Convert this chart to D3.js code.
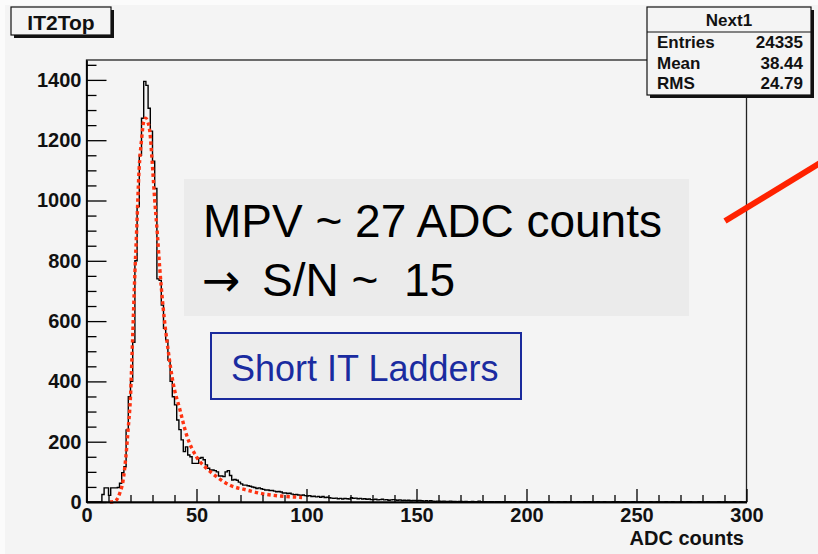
<!DOCTYPE html>
<html>
<head>
<meta charset="utf-8">
<script src="https://cdn.jsdelivr.net/npm/d3@7"></script>
<style>
  body { margin: 0; background: #fbfbfb; }
  svg { display: block; font-family: "Liberation Sans", Arial, sans-serif; }
</style>
</head>
<body>
<svg id="viz" width="818" height="554"></svg>
<script>
// histogram: one bin per ADC count, 0..300
const binWidth = 1;
const counts = [
  0, 0, 0, 0, 0, 0, 0, 25, 47, 47,
  22, 47, 47, 47, 48, 62, 97, 117, 239, 349,
  400, 530, 800, 980, 1150, 1273, 1395, 1382, 1306, 1230,
  1130, 1040, 740, 735, 653, 576, 537, 471, 400, 349,
  322, 272, 240, 206, 167, 183, 156, 150, 128, 128,
  128, 145, 148, 140, 123, 112, 106, 106, 104, 100,
  86, 86, 84, 100, 104, 88, 73, 75, 72, 66,
  60, 56, 56, 54, 52, 50, 48, 45, 47, 44,
  42, 40, 40, 38, 38, 36, 34, 35, 33, 30,
  30, 28, 29, 26, 24, 25, 23, 22, 23, 21,
  20, 21, 18, 19, 17, 18, 16, 18, 15, 16,
  14, 13, 12, 13, 11, 12, 10, 12, 11, 10,
  14, 12, 13, 11, 12, 10, 11, 9, 10, 8,
  8, 9, 7, 8, 9, 7, 8, 6, 7, 8,
  7, 6, 7, 5, 6, 5, 6, 4, 5, 5,
  4, 5, 4, 3, 4, 3, 4, 3, 2, 3,
  3, 2, 3, 2, 2, 3, 2, 2, 1, 2,
  2, 1, 2, 1, 1, 2, 1, 1, 3, 1,
  1, 1, 0, 1, 1, 0, 1, 1, 0, 1,
  0, 1, 1, 0, 1, 0, 0, 1, 0, 1,
  1, 0, 0, 1, 0, 1, 0, 0, 1, 0,
  0, 1, 0, 0, 1, 0, 0, 1, 0, 0,
  1, 0, 0, 1, 0, 0, 1, 0, 1, 0,
  0, 0, 1, 0, 0, 1, 0, 0, 0, 1,
  0, 1, 0, 0, 1, 0, 0, 0, 1, 0,
  0, 0, 1, 0, 0, 0, 1, 0, 0, 1,
  0, 0, 0, 1, 0, 0, 1, 0, 0, 0,
  1, 0, 0, 1, 1, 0, 0, 0, 1, 0,
  0, 0, 1, 0, 0, 0, 0, 1, 0, 0,
  1, 0, 0, 0, 1, 0, 0, 1, 0, 0
];

// fitted curve
const fitX = [10.6, 12.9, 15.1, 16.6, 17.9, 18.9, 20, 20.9, 22, 22.8, 23.9, 25, 26, 26.8, 27.8, 28.8, 29.8, 31, 32.2, 33.3, 34.8, 37.1, 39.4, 42.4, 45.5, 50, 54.5, 59.1, 65.1, 72.7, 80.3, 87.9, 95.5, 98];
const fitY = [0, 2, 29, 70, 150, 239, 350, 530, 760, 900, 1101, 1200, 1262, 1273, 1262, 1228, 1134, 1002, 890, 775, 648, 504, 394, 308, 222, 150, 112, 84, 56, 40, 27, 20, 16, 15];

const xTicks = [0, 50, 100, 150, 200, 250, 300];
const yTicks = [0, 200, 400, 600, 800, 1000, 1200, 1400];
const statNames = ['Entries', 'Mean', 'RMS'];
const statValues = ['24335', '38.44', '24.79'];

const svg = d3.select('#viz');
const FONT_B = 'bold';

// canvas background
svg.append('rect').attr('x', 5).attr('y', 5).attr('width', 813).attr('height', 549).attr('fill', '#f4f4f4');

const x = d3.scaleLinear().domain([0, 300]).range([86.5, 746.5]);
const y = d3.scaleLinear().domain([0, 1466]).range([502, 60]);

// frame
svg.append('rect')
  .attr('x', x(0)).attr('y', y(1466))
  .attr('width', x(300) - x(0)).attr('height', y(0) - y(1466))
  .attr('fill', 'none').attr('stroke', '#222').attr('stroke-width', 1.3);

// histogram outline
const pts = counts.map((c, i) => [i * binWidth, c]);
pts.push([counts.length * binWidth, counts[counts.length - 1]]);
svg.append('path')
  .datum(pts)
  .attr('fill', 'none')
  .attr('stroke', '#000')
  .attr('stroke-width', 1.4)
  .attr('d', d3.line().x((d) => x(d[0])).y((d) => y(d[1])).curve(d3.curveStepAfter));

// fit
svg.append('path')
  .datum(fitX.map((v, i) => [v, fitY[i]]))
  .attr('fill', 'none')
  .attr('stroke', '#ff3311')
  .attr('stroke-width', 3.4)
  .attr('stroke-dasharray', '3.4,3')
  .attr('d', d3.line().x((d) => x(d[0])).y((d) => y(d[1])).curve(d3.curveMonotoneX));

// axes, ticks point into the plot like ROOT
const styleAxis = (g) => {
  g.selectAll('path, line').attr('stroke', '#000').attr('stroke-width', 1.3);
  g.selectAll('text').attr('fill', '#111').attr('font-size', 20).attr('font-weight', FONT_B)
    .attr('font-family', '"Liberation Sans", Arial, sans-serif');
};

svg.append('g')
  .attr('transform', `translate(0,${y(0)})`)
  .call(d3.axisBottom(x).tickValues(d3.range(0, 301, 10).filter((v) => v % 50)).tickFormat('').tickSize(-7).tickSizeOuter(0))
  .call(styleAxis);
svg.append('g')
  .attr('transform', `translate(0,${y(0)})`)
  .call(d3.axisBottom(x).tickValues(xTicks).tickFormat(d3.format('d')).tickSize(-13).tickSizeOuter(0).tickPadding(6))
  .call(styleAxis);

svg.append('g')
  .attr('transform', `translate(${x(0)},0)`)
  .call(d3.axisLeft(y).tickValues(d3.range(0, 1466, 50).filter((v) => v % 200)).tickFormat('').tickSize(-10).tickSizeOuter(0))
  .call(styleAxis);
svg.append('g')
  .attr('transform', `translate(${x(0)},0)`)
  .call(d3.axisLeft(y).tickValues(yTicks).tickFormat(d3.format('d')).tickSize(-20).tickSizeOuter(0).tickPadding(5))
  .call(styleAxis);

svg.append('text')
  .attr('x', 744).attr('y', 545)
  .attr('text-anchor', 'end')
  .attr('font-size', 20).attr('font-weight', FONT_B).attr('fill', '#111')
  .text('ADC counts');

// title pave
svg.append('rect').attr('x', 14).attr('y', 10).attr('width', 100).attr('height', 28).attr('fill', '#111');
svg.append('rect').attr('x', 11).attr('y', 7).attr('width', 100).attr('height', 28)
  .attr('fill', '#f4f4f4').attr('stroke', '#111').attr('stroke-width', 1.2);
svg.append('text').attr('x', 61).attr('y', 30).attr('text-anchor', 'middle')
  .attr('font-size', 21).attr('font-weight', FONT_B).attr('fill', '#111').text('IT2Top');

// stats box
const sb = { x: 647, y: 7, w: 164, h: 88 };
svg.append('rect').attr('x', sb.x + 3).attr('y', sb.y + 3).attr('width', sb.w).attr('height', sb.h).attr('fill', '#111');
svg.append('rect').attr('x', sb.x).attr('y', sb.y).attr('width', sb.w).attr('height', sb.h)
  .attr('fill', '#f4f4f4').attr('stroke', '#111').attr('stroke-width', 1.2);
svg.append('line').attr('x1', sb.x).attr('x2', sb.x + sb.w).attr('y1', 32).attr('y2', 32)
  .attr('stroke', '#111').attr('stroke-width', 1.2);
svg.append('text').attr('x', sb.x + sb.w / 2).attr('y', 26).attr('text-anchor', 'middle')
  .attr('font-size', 17).attr('font-weight', FONT_B).attr('fill', '#111').text('Next1');
statNames.forEach((n, i) => {
  const by = 48 + i * 20.5;
  svg.append('text').attr('x', sb.x + 10).attr('y', by)
    .attr('font-size', 17).attr('font-weight', FONT_B).attr('fill', '#111').text(n);
  svg.append('text').attr('x', sb.x + sb.w - 8).attr('y', by).attr('text-anchor', 'end')
    .attr('font-size', 17).attr('font-weight', FONT_B).attr('fill', '#111').text(statValues[i]);
});

// slide annotations
svg.append('rect').attr('x', 184).attr('y', 179).attr('width', 505).attr('height', 137).attr('fill', '#ebebeb');
svg.append('text').attr('x', 203).attr('y', 237).attr('font-size', 46).attr('fill', '#000')
  .text('MPV ~ 27 ADC counts');
const line2 = svg.append('text').attr('y', 296).attr('font-size', 46).attr('fill', '#000')
  .style('white-space', 'pre');
line2.append('tspan').attr('x', 202).attr('font-family', '"DejaVu Sans", sans-serif')
  .attr('font-size', 46).text('\u2192');
line2.append('tspan').attr('x', 262).text('S/N ~  15');

svg.append('rect').attr('x', 211).attr('y', 333).attr('width', 310).attr('height', 66)
  .attr('fill', '#ededed').attr('stroke', '#1a2a9c').attr('stroke-width', 2);
svg.append('text').attr('x', 231).attr('y', 381).attr('font-size', 36).attr('fill', '#1a2ba0')
  .text('Short IT Ladders');

svg.append('line').attr('x1', 725).attr('y1', 221).attr('x2', 830).attr('y2', 157)
  .attr('stroke', '#ff2200').attr('stroke-width', 6);
</script>
</body>
</html>
